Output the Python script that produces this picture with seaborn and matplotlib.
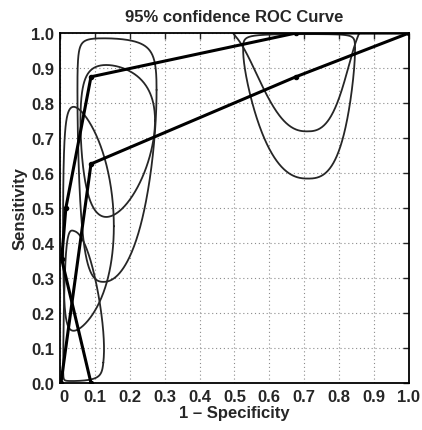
import numpy as np
import pandas as pd
import matplotlib
matplotlib.use("Agg")
import matplotlib.pyplot as plt
import matplotlib.transforms as mtransforms
import seaborn as sns

# ROC points (1 - specificity, sensitivity)
fpr_a = [0.089, 0.005, 0.017, 0.089, 0.676, 1.0]
tpr_a = [0.0, 0.354, 0.5, 0.875, 1.0, 1.0]
fpr_b = [0.003, 0.089, 0.676, 1.0]
tpr_b = [0.0, 0.626, 0.875, 1.0]

# 95% confidence regions, given on the logit scale
# (centre, half-widths, rotation in degrees, superellipse exponent)
ell_cx = [0.89, 0.90, -1.95, -1.877, -3.2, -3.3]
ell_cy = [6.5, 3.07, 1.64, 1.098, -0.21, -2.71]
ell_a = [0.9, 0.80, 0.99, 0.895, 1.5, 1.35]
ell_b = [5.56, 2.73, 2.54, 1.2, 1.53, 2.45]
ell_ang = [0, 0, 0, 0, 0, -3]
ell_p = [2.5, 2.5, 2.3, 2.0, 2.0, 2.6]


def expit(v):
    return 1.0 / (1.0 + np.exp(-v))


def ellipse_df(cx, cy, a, b, ang, p, n=600):
    t = np.linspace(0, 2 * np.pi, n)
    th = np.deg2rad(ang)
    c, s = np.cos(t), np.sin(t)
    u = a * np.sign(c) * np.abs(c) ** (2.0 / p)
    v = b * np.sign(s) * np.abs(s) ** (2.0 / p)
    x = cx + u * np.cos(th) - v * np.sin(th)
    y = cy + u * np.sin(th) + v * np.cos(th)
    return pd.DataFrame({"x": expit(x), "y": expit(y)})


sns.set_style("white")
plt.rcParams["font.family"] = ["Liberation Sans", "DejaVu Sans"]
plt.rcParams["font.weight"] = "bold"

fig = plt.figure(figsize=(4.22, 4.31), dpi=100)
ax = fig.add_axes([0.142, 0.109, 0.827, 0.812])

for k in range(len(ell_cx)):
    d = ellipse_df(ell_cx[k], ell_cy[k], ell_a[k], ell_b[k], ell_ang[k], ell_p[k])
    sns.lineplot(data=d, x="x", y="y", sort=False, estimator=None,
                 color="#262626", lw=1.3, ax=ax)

roc_a = pd.DataFrame({"x": fpr_a, "y": tpr_a})
roc_b = pd.DataFrame({"x": fpr_b, "y": tpr_b})
for d in (roc_a, roc_b):
    sns.lineplot(data=d, x="x", y="y", sort=False, estimator=None,
                 color="black", lw=2.2, marker="o", markersize=3.2,
                 markeredgecolor="black", ax=ax)

ax.set_xlim(0, 1)
ax.set_ylim(0, 1)
ticks = np.round(np.arange(0, 1.01, 0.1), 1)
ax.set_xticks(ticks)
ax.set_yticks(ticks)
ax.set_xticklabels(["0"] + ["%.1f" % t for t in ticks[1:]])
ax.set_yticklabels(["%.1f" % t for t in ticks])
ax.tick_params(direction="in", length=4, width=1, labelsize=12,
               top=True, right=True, pad=4)
# MATLAB puts the "0" a little to the right of the corner
lab0 = ax.get_xticklabels()[0]
lab0.set_transform(lab0.get_transform() +
                   mtransforms.ScaledTranslation(4 / 100, 0, fig.dpi_scale_trans))
ax.grid(True, linestyle=(0, (1, 2.5)), color="#8c8c8c", lw=0.8)
for s in ax.spines.values():
    s.set_linewidth(1.3)
    s.set_color("black")

ax.set_title("95% confidence ROC Curve", fontsize=12, fontweight="bold", pad=9)
ax.set_xlabel("1 \u2013 Specificity", fontsize=12, fontweight="bold", labelpad=1)
ax.set_ylabel("Sensitivity", fontsize=12, fontweight="bold", labelpad=3)

fig.savefig("out.png", dpi=100)
